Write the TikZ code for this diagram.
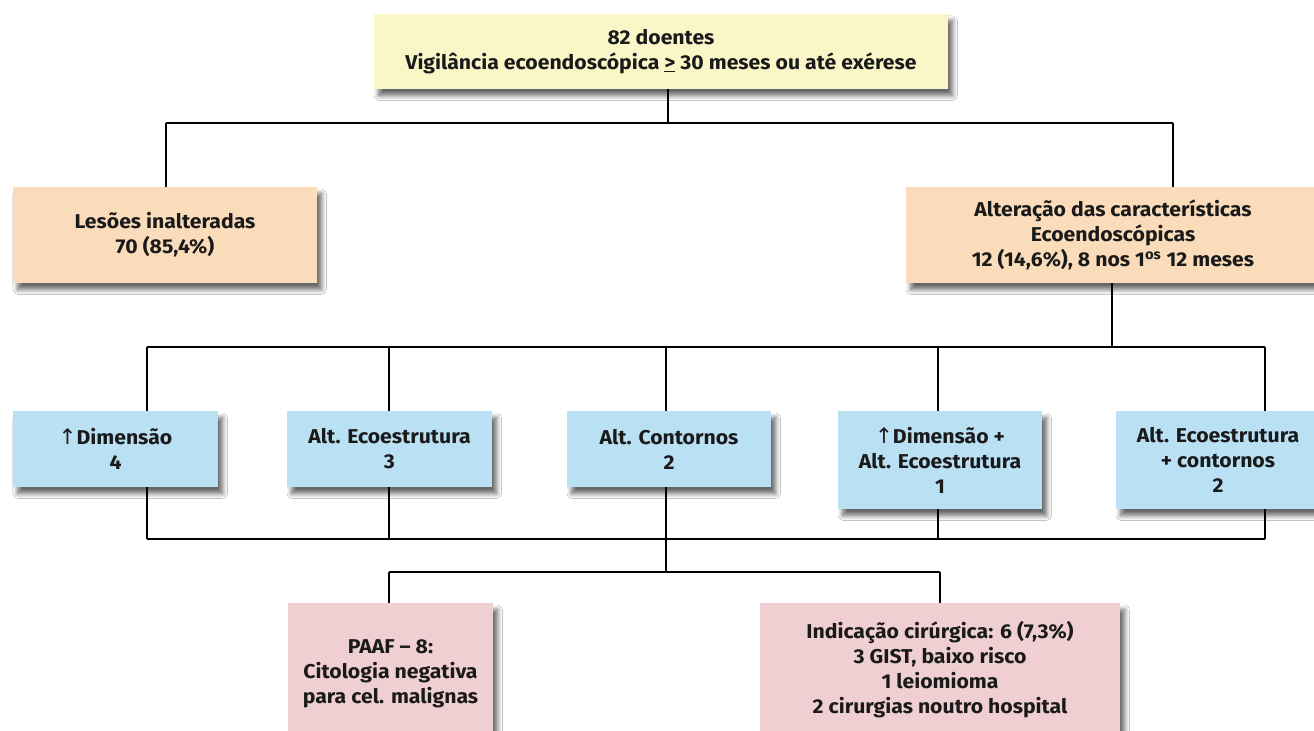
\documentclass[tikz,border=0pt]{standalone}
\usepackage{fontspec}
\setmainfont{Fira Sans}[FakeStretch=1.06]
\newfontfamily\symfont{DejaVu Sans}
\usetikzlibrary{shadows.blur}
\definecolor{cyellow}{HTML}{FAF6C8}
\definecolor{corange}{HTML}{FADCBA}
\definecolor{cblue}{HTML}{BAE0F4}
\definecolor{cpink}{HTML}{F0CFD2}
\definecolor{ctext}{HTML}{1A1A1A}
\newcommand{\uparr}{{\symfont\mdseries\fontsize{16}{18}\selectfont ↑}}
\tikzset{
  box/.style={rectangle, inner sep=0pt, align=center, text=ctext,
    font=\fontsize{15}{18.75}\selectfont\bfseries,
    blur shadow={shadow xshift=3.5pt, shadow yshift=-5pt, shadow blur radius=3.5pt, shadow blur steps=8, shadow opacity=60}},
  conn/.style={line width=1.4pt, black},
}
\begin{document}
\begin{tikzpicture}[x=0.75pt,y=-0.75pt]
\fill[white] (0,0) rectangle (1314,731);
\useasboundingbox (0,0) rectangle (1314,731);
% nodes
\node[box, fill=cyellow, minimum width=574*0.75pt, minimum height=75*0.75pt] (top) at (661,51.5)
  {82 doentes\\Vigilância ecoendoscópica \underline{>} 30 meses ou até exérese};
\node[box, fill=corange, minimum width=304*0.75pt, minimum height=96*0.75pt] (les) at (165,235)
  {Lesões inalteradas\\70 (85,4\%)};
\node[box, fill=corange, minimum width=414*0.75pt, minimum height=96*0.75pt] (alt) at (1113,235)
  {Alteração das características\\Ecoendoscópicas\\12 (14,6\%), 8 nos 1\textsuperscript{os} 12 meses};
\node[box, fill=cblue, minimum width=205*0.75pt, minimum height=76*0.75pt] (d1) at (115.5,449)
  {\uparr Dimensão\\4};
\node[box, fill=cblue, minimum width=205*0.75pt, minimum height=76*0.75pt] (d2) at (389.5,449)
  {Alt. Ecoestrutura\\3};
\node[box, fill=cblue, minimum width=204*0.75pt, minimum height=76*0.75pt] (d3) at (669,449)
  {Alt. Contornos\\2};
\node[box, fill=cblue, minimum width=204*0.75pt, minimum height=98*0.75pt] (d4) at (940,460)
  {\uparr Dimensão +\\Alt. Ecoestrutura\\1};
\node[box, fill=cblue, minimum width=204*0.75pt, minimum height=98*0.75pt] (d5) at (1218,460)
  {Alt. Ecoestrutura\\+ contornos\\2};
\node[box, fill=cpink, minimum width=205*0.75pt, minimum height=142*0.75pt] (p1) at (390.5,674)
  {PAAF – 8:\\Citologia negativa\\para cel. malignas};
\node[box, fill=cpink, minimum width=360*0.75pt, minimum height=134*0.75pt] (p2) at (940,670)
  {Indicação cirúrgica: 6 (7,3\%)\\3 GIST, baixo risco\\1 leiomioma\\2 cirurgias noutro hospital};
% junction coordinates
\coordinate (j1) at (668,123);
\coordinate (j1l) at (166,123);
\coordinate (j1r) at (1173,123);
\coordinate (c1) at (147,347);
\coordinate (c2) at (389,347);
\coordinate (c3) at (666,347);
\coordinate (c4) at (938,347);
\coordinate (c5) at (1265,347);
\coordinate (b1) at (147,539);
\coordinate (b2) at (389,539);
\coordinate (b3) at (666,539);
\coordinate (b4) at (938,539);
\coordinate (b5) at (1265,539);
\coordinate (q1) at (389,572);
\coordinate (q3) at (666,572);
\coordinate (q2) at (940,572);
% connectors
\draw[conn] (top.south -| j1) -- (j1);
\draw[conn] (j1l) -- (j1r);
\draw[conn] (j1l) -- (les.north -| j1l);
\draw[conn] (j1r) -- (alt.north -| j1r);
\draw[conn] (alt.south -| 1112,0) -- (1112,347);
\draw[conn] (c1) -- (c5);
\foreach \i in {1,...,5}{
  \draw[conn] (c\i) -- (d\i.north -| c\i);
  \draw[conn] (d\i.south -| b\i) -- (b\i);
}
\draw[conn] (b1) -- (b5);
\draw[conn] (b3) -- (q3);
\draw[conn] (q1) -- (q2);
\draw[conn] (q1) -- (p1.north -| q1);
\draw[conn] (q2) -- (p2.north -| q2);
\end{tikzpicture}
\end{document}
